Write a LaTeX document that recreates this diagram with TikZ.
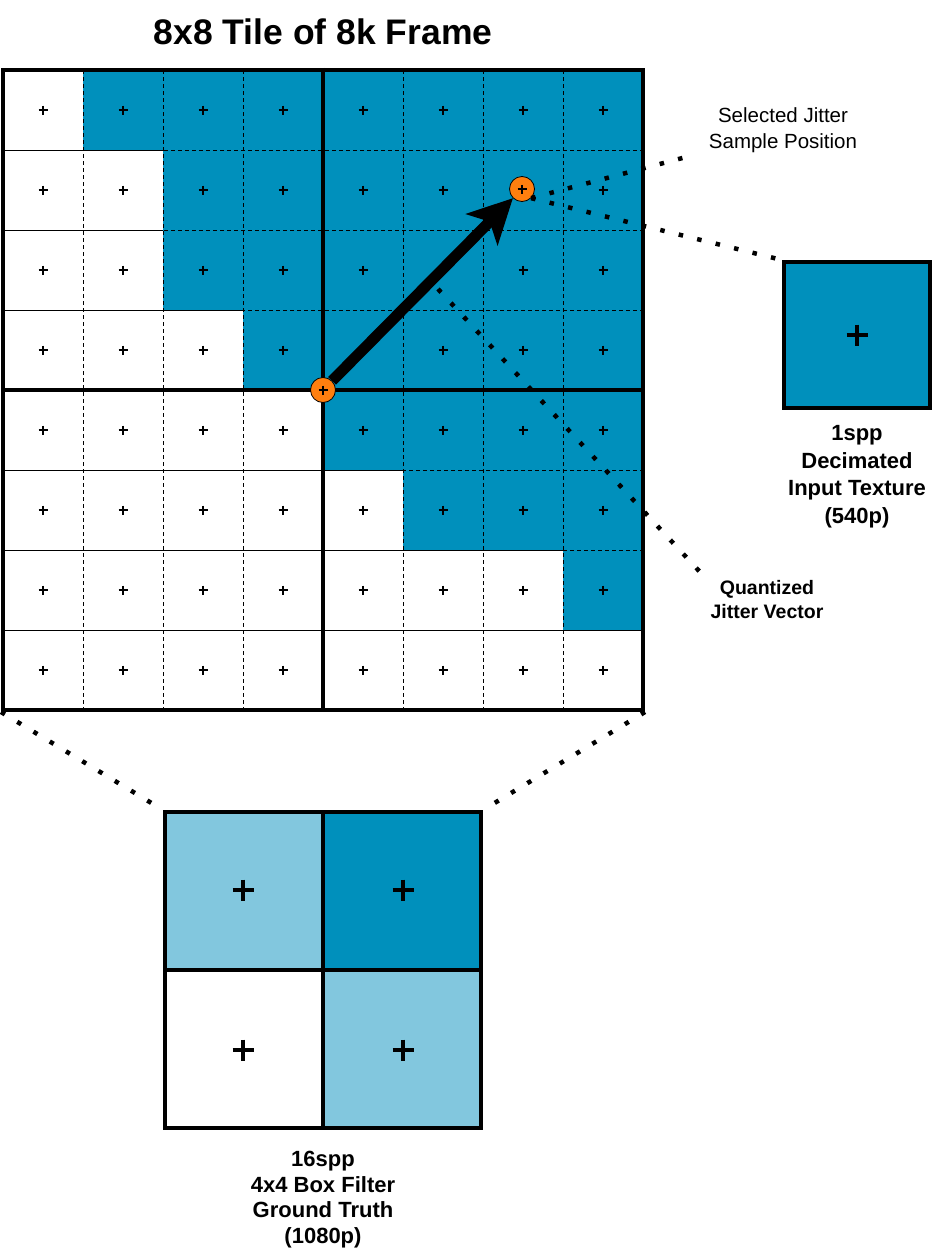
\documentclass[tikz,border=0pt]{standalone}
\usepackage{fontspec}
\setmainfont{Liberation Sans}
\usetikzlibrary{arrows.meta, positioning}
\definecolor{tileblue}{HTML}{0090BC}
\definecolor{lightblue}{HTML}{82C7DE}
\definecolor{jitterorange}{HTML}{FF7F0F}

\begin{document}
\begin{tikzpicture}[x=1pt, y=-1pt,
  cellline/.style={line width=0.9pt, dash pattern=on 4pt off 3pt},
  rowline/.style={line width=0.9pt},
  heavy/.style={line width=4pt},
  dotline/.style={line width=4.5pt, dash pattern=on 4.5pt off 14.5pt},
  jitter/.style={circle, draw=black, line width=0.8pt, fill=jitterorange, minimum size=25pt, inner sep=0pt},
  caption/.style={font=\fontsize{22}{27.5}\selectfont\bfseries, align=center},
  note/.style={font=\fontsize{20.5}{26}\selectfont, align=center},
  arr/.style={-{Stealth[length=44pt, width=44pt, inset=11pt]}, line width=11pt},
  smallplus/.pic={\draw[line width=1.3pt] (-4.5,0) -- (4.5,0) (0,-4.5) -- (0,4.5);},
  bigplus/.pic={\draw[line width=4pt] (-10.5,0) -- (10.5,0) (0,-10.5) -- (0,10.5);},
]
\useasboundingbox (0,0) rectangle (943,1255);

\node[font=\fontsize{35.5}{40}\selectfont\bfseries] (title) at (323,32) {8x8 Tile of 8k Frame};

% blue cells of the tile, row by row
\foreach \r/\w in {0/1,1/2,2/2,3/3,4/4,5/5,6/7,7/8}
  \fill[tileblue] (3+80*\w,70+80*\r) rectangle (643,150+80*\r);

% thin cell lines
\foreach \i in {1,2,3,5,6,7}
  \draw[cellline] (3+80*\i,70) -- (3+80*\i,710);
\foreach \j/\w in {1/2,2/2,3/3,5/5,6/7,7/8} {
  \draw[cellline] (3,70+80*\j) -- (643,70+80*\j);
  \draw[rowline] (3,70+80*\j) -- (3+80*\w,70+80*\j);
}
\foreach \r in {0,...,7}
  \foreach \c in {0,...,7}
    \pic at (43+80*\c,110+80*\r) {smallplus};

\node[draw, heavy, minimum size=640pt, inner sep=0pt] (tile) at (323,390) {};
\draw[heavy] (tile.north) -- (tile.south);
\draw[heavy] (tile.west) -- (tile.east);

% jitter sample
\node[jitter] (origin) at (323,390) {};
\pic at (origin) {smallplus};
\node[jitter] (sample) at (522,189) {};
\pic at (sample) {smallplus};
\draw[arr] (origin) -- (sample);

% 1spp texel
\node[draw, heavy, fill=tileblue, minimum size=146pt, inner sep=0pt] (decimated) at (857,335) {};
\pic at (decimated) {bigplus};
\node[caption, below=12pt of decimated] (deccap) {1spp\\Decimated\\Input Texture\\(540p)};

% 2x2 ground truth
\fill[lightblue] (163,810) rectangle (323,970);
\fill[tileblue] (323,810) rectangle (483,970);
\fill[lightblue] (323,970) rectangle (483,1130);
\node[draw, heavy, minimum size=316pt, inner sep=0pt] (truth) at (323,970) {};
\draw[heavy] (truth.north) -- (truth.south);
\draw[heavy] (truth.west) -- (truth.east);
\foreach \p in {(243,890),(403,890),(243,1050),(403,1050)}
  \pic at \p {bigplus};
\node[caption, font=\fontsize{22}{25.5}\selectfont\bfseries, below=18pt of truth] (truthcap) {16spp\\4x4 Box Filter\\Ground Truth\\(1080p)};

% labels and leaders
\node[note] (selected) at (783,130) {Selected Jitter\\Sample Position};
\node[note, font=\fontsize{19.5}{24}\selectfont\bfseries] (quantized) at (767,600) {Quantized\\Jitter Vector};
\coordinate (selpoint) at (690,156);
\coordinate (quantstart) at (438,289);
\coordinate (quantend) at (700,572);

\draw[dotline] (sample.south east) -- (selpoint);
\draw[dotline] (sample.south east) -- (decimated.north west);
\draw[dotline] (quantstart) -- (quantend);
\draw[dotline] (tile.south west) -- (truth.north west);
\draw[dotline] (tile.south east) -- (truth.north east);
\end{tikzpicture}
\end{document}
